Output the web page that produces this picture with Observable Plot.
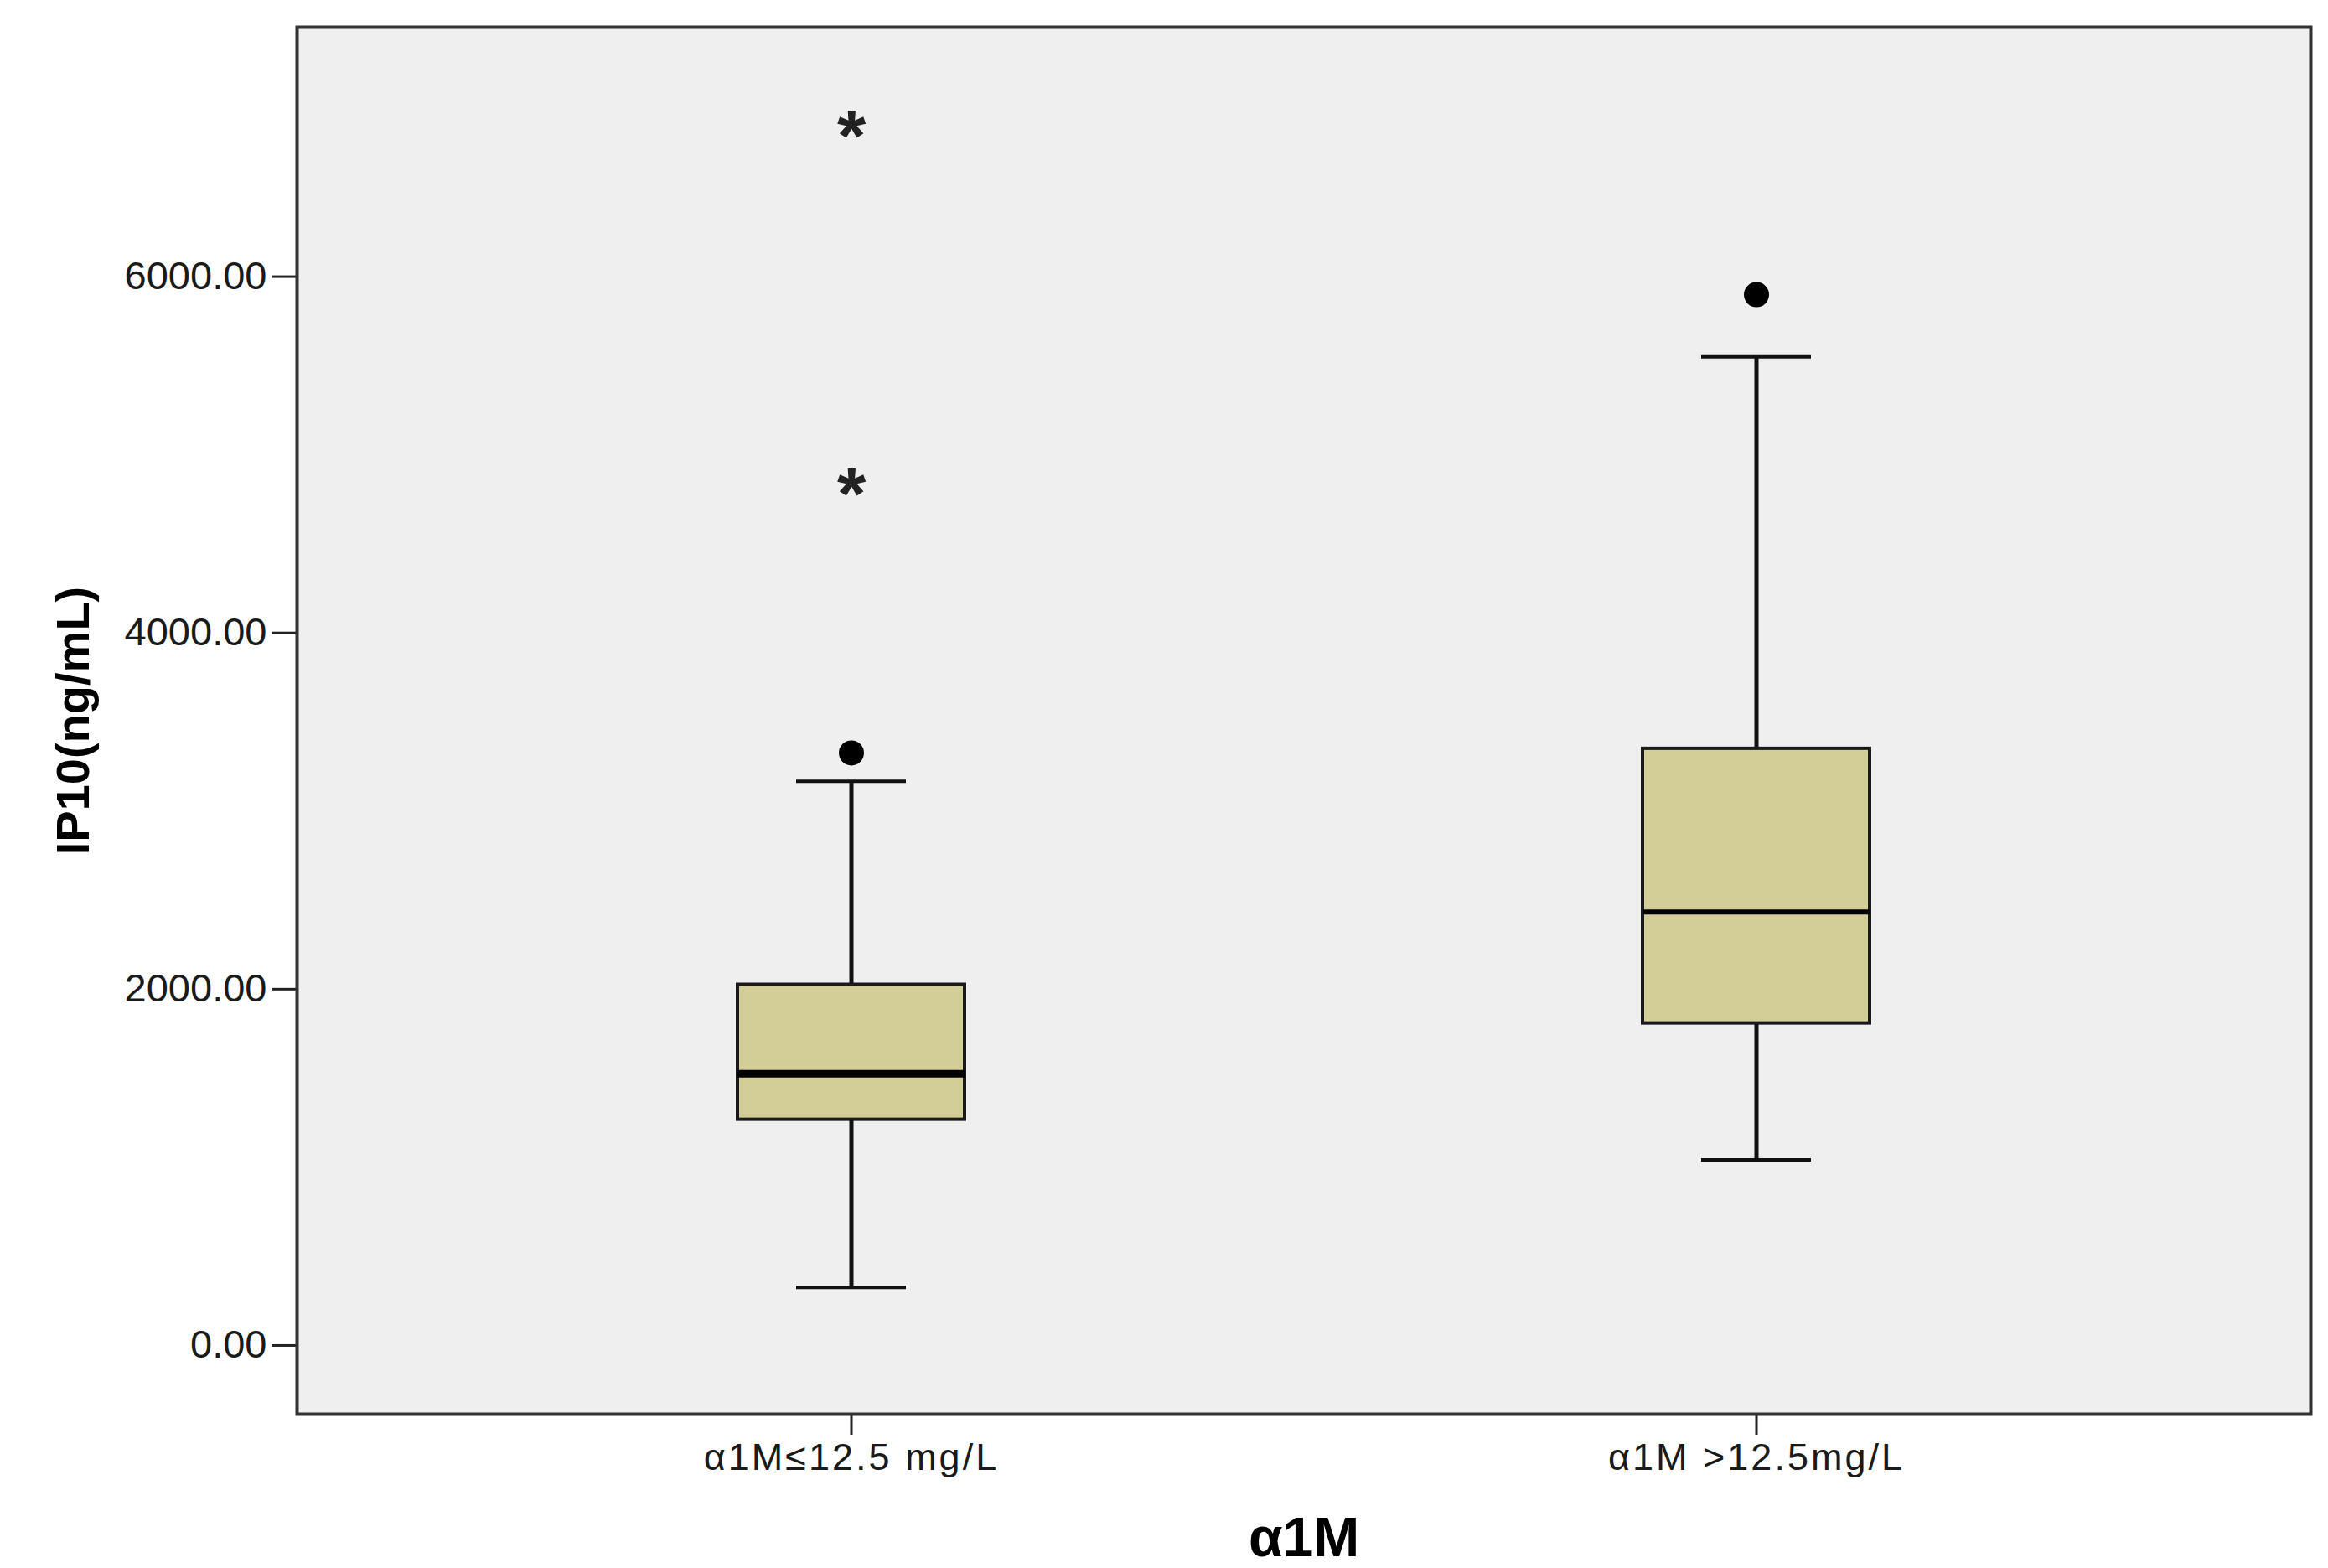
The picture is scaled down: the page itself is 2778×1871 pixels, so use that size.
<!DOCTYPE html>
<html>
<head>
<meta charset="utf-8">
<script src="https://cdn.jsdelivr.net/npm/d3@7"></script>
<script src="https://cdn.jsdelivr.net/npm/@observablehq/plot@0.6"></script>
<style>
  html, body { margin: 0; padding: 0; background: #ffffff; }
</style>
</head>
<body>
<div id="chart"></div>
<script>
// ---- data ----
const categories = ["α1M≤12.5 mg/L", "α1M >12.5mg/L"];
const whiskerLow  = [325, 1042];
const q1          = [1267, 1808];
const median      = [1525, 2433];
const q3          = [2025, 3350];
const whiskerHigh = [3167, 5550];

// outliers: circles (mild) and stars (extreme)
const circleCat = [categories[0], categories[1]];
const circleVal = [3326, 5899];
const starCat   = [categories[0], categories[0]];
const starVal   = [6855, 4842];

const yTicks = [0, 2000, 4000, 6000];
const yTitle = "IP10(ng/mL)";
const xTitle = "α1M";

// ---- tables built from the arrays ----
const boxes = categories.map((c, i) => ({
  cat: c, low: whiskerLow[i], q1: q1[i], med: median[i], q3: q3[i], high: whiskerHigh[i]
}));
const circles = circleCat.map((c, i) => ({cat: c, v: circleVal[i]}));
const stars = starCat.map((c, i) => ({cat: c, v: starVal[i]}));

const plot = Plot.plot({
  width: 2778,
  height: 1871,
  marginLeft: 354,
  marginRight: 21,
  marginTop: 32,
  marginBottom: 184,
  style: {fontFamily: "'Liberation Sans', Arial, sans-serif", background: "#ffffff", color: "#1a1a1a"},
  x: {type: "band", domain: categories, paddingInner: 0.749, paddingOuter: 0.486, label: null},
  y: {domain: [-386, 7400], label: null},
  marks: [
    Plot.frame({fill: "#efefef"}),
    // whiskers
    Plot.ruleX(boxes, {x: "cat", y1: "low", y2: "q1", stroke: "#111", strokeWidth: 5}),
    Plot.ruleX(boxes, {x: "cat", y1: "q3", y2: "high", stroke: "#111", strokeWidth: 5}),
    // caps
    Plot.tickY(boxes, {x: "cat", y: "low", insetLeft: 70, insetRight: 70, stroke: "#111", strokeWidth: 4}),
    Plot.tickY(boxes, {x: "cat", y: "high", insetLeft: 70, insetRight: 70, stroke: "#111", strokeWidth: 4}),
    // boxes
    Plot.barY(boxes, {x: "cat", y1: "q1", y2: "q3", fill: "#d3ce97", stroke: "#1a1a1a", strokeWidth: 4}),
    // medians
    Plot.tickY(boxes, {x: "cat", y: "med", stroke: "#000", strokeWidth: d => d.cat === categories[0] ? 9 : 6}),
    // outliers
    Plot.dot(circles, {x: "cat", y: "v", r: 15, fill: "#000", stroke: null}),
    Plot.text(stars, {x: "cat", y: "v", text: () => "*", fontSize: 88, fontWeight: "bold", lineAnchor: "middle", dy: 15, fill: "#222"}),
    // axes
    Plot.axisY({ticks: yTicks, tickFormat: d3.format(".2f"), tickSize: 30, tickPadding: 6, fontSize: 47, stroke: "#222", strokeWidth: 3, label: null}),
    Plot.axisX({tickSize: 25, tickPadding: 10, fontSize: 45, stroke: "#222", strokeWidth: 3, label: null}),
    // axis titles
    Plot.text([yTitle], {frameAnchor: "left", dx: -266, rotate: -90, fontSize: 56, fontWeight: "bold", fill: "#000", textAnchor: "middle", lineAnchor: "middle"}),
    Plot.text([xTitle], {frameAnchor: "bottom", dy: 148, fontSize: 66, fontWeight: "bold", fill: "#000", textAnchor: "middle", lineAnchor: "middle"}),
    Plot.frame({stroke: "#333", strokeWidth: 4})
  ]
});

plot.querySelectorAll('g[aria-label="x-axis tick label"] text').forEach(t => t.setAttribute("letter-spacing", "3"));
document.getElementById("chart").appendChild(plot);
</script>
</body>
</html>
